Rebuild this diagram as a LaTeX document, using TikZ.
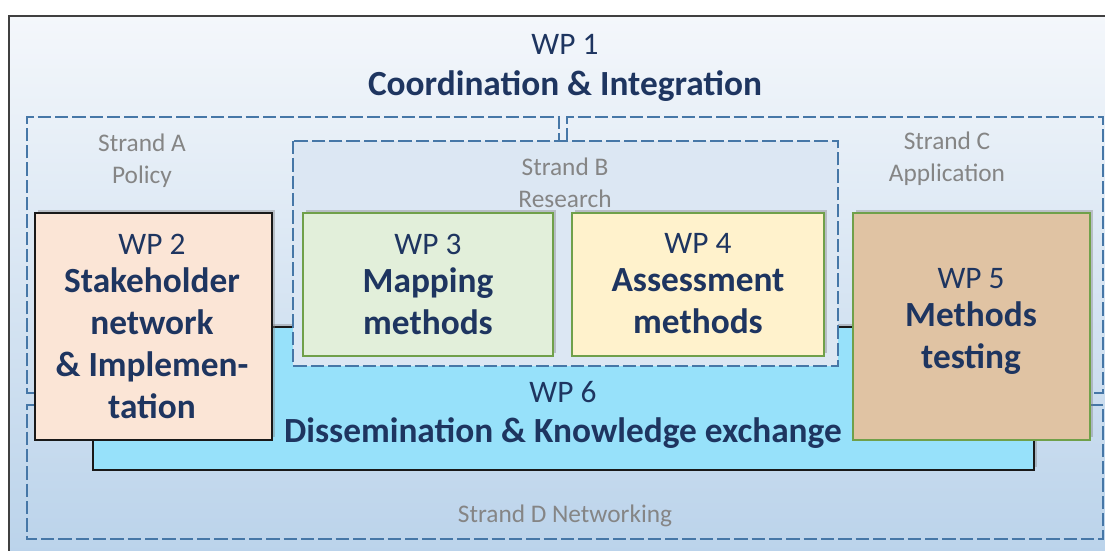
\documentclass[tikz,border=0pt]{standalone}
\usepackage{fontspec}
\setmainfont{Carlito}
\usetikzlibrary{shadows}

\definecolor{framelight}{HTML}{F4F7FB}
\definecolor{framedark}{HTML}{B9D2EA}
\definecolor{strandblue}{HTML}{4677A7}
\definecolor{strandgray}{HTML}{858585}
\definecolor{strandfill}{HTML}{DCE7F3}
\definecolor{navytext}{HTML}{1E3560}
\definecolor{wpgreen}{HTML}{70A04A}
\definecolor{peachfill}{HTML}{FBE5D6}
\definecolor{mintfill}{HTML}{E2EFDA}
\definecolor{creamfill}{HTML}{FFF2CC}
\definecolor{tanfill}{HTML}{E0C3A3}
\definecolor{cyanfill}{HTML}{97E1FA}

\tikzset{
  strandline/.style={draw=strandblue, line width=1pt, dash pattern=on 10pt off 3pt},
  wpbox/.style={line width=1.2pt, drop shadow={shadow xshift=2.5pt, shadow yshift=2.5pt, opacity=0.4}},
  wptext/.style={text=navytext, align=center, font=\fontsize{23.5}{31.5}\selectfont},
  strandtext/.style={text=strandgray, align=center, font=\fontsize{19}{24}\selectfont}
}
\newcommand{\wpb}[1]{{\fontsize{26.5}{31.5}\selectfont\bfseries #1}}

\begin{document}
\begin{tikzpicture}[x=0.75pt,y=0.75pt,yscale=-1,xscale=1]
\useasboundingbox (0,0) rectangle (1105,550);
\clip (0,0) rectangle (1105,550);

%Shape: Rectangle [id:frame]
\shade [top color=framelight, bottom color=framedark] (9,16) rectangle (1125,570);
\draw [line width=1.5pt, draw=black!75] (9,570) -- (9,16) -- (1125,16);

%Shape: Rectangle [id:wpsix]
\draw [wpbox, fill=cyanfill, draw=black!90] (93,327) rectangle (1034,470);

%Shape: Rectangle [id:strandb]
\draw [strandline, fill=strandfill] (293,141) rectangle (838,366);
%Straight Lines [id:stranda]
\draw [strandline] (35,393) -- (27,393) -- (27,117) -- (559,117) -- (559,141);
%Straight Lines [id:strandc]
\draw [strandline] (567,141) -- (567,117) -- (1103,117) -- (1103,393) -- (1090,393);
%Straight Lines [id:strandd]
\draw [strandline] (35,405) -- (27,405) -- (27,539) -- (1103,539) -- (1103,405) -- (1090,405);

%Shape: Rectangle [id:wptwo]
\draw [wpbox, fill=peachfill, draw=black!90] (35,213) rectangle (272,440);
%Shape: Rectangle [id:wpthree]
\draw [wpbox, fill=mintfill, draw=wpgreen] (303,213) rectangle (553,356);
%Shape: Rectangle [id:wpfour]
\draw [wpbox, fill=creamfill, draw=wpgreen] (572,213) rectangle (824,356);
%Shape: Rectangle [id:wpfive]
\draw [wpbox, fill=tanfill, draw=wpgreen] (853,213) rectangle (1090,440);

% Text Node
\draw (565,68) node [wptext] (wponetext) {WP 1\\[-1pt]\wpb{Coordination \& Integration}};
% Text Node
\draw (142,161) node [strandtext] (strandatext) {Strand A\\Policy};
% Text Node
\draw (565,183) node [strandtext] (strandbtext) {Strand B\\Research};
% Text Node
\draw (947,159) node [strandtext] (strandctext) {Strand C\\Application};
% Text Node
\draw (565,516) node [strandtext] (strandtexd) {Strand D Networking};
% Text Node
\draw (152,326) node [wptext] (wptwotext) {WP 2\\[-3pt]\wpb{Stakeholder}\\\wpb{network}\\\wpb{\& Implemen-}\\\wpb{tation}};
% Text Node
\draw (428,284) node [wptext] (wpthreetext) {WP 3\\[-3pt]\wpb{Mapping}\\\wpb{methods}};
% Text Node
\draw (698,284) node [wptext] (wpfourtext) {WP 4\\[-3pt]\wpb{Assessment}\\\wpb{methods}};
% Text Node
\draw (971,321) node [wptext] (wpfivetext) {WP 5\\[-3pt]\wpb{Methods}\\\wpb{testing}};
% Text Node
\draw (563,415) node [wptext] (wpsixtext) {WP 6\\[-1pt]\wpb{Dissemination \& Knowledge exchange}};
\end{tikzpicture}
\end{document}
